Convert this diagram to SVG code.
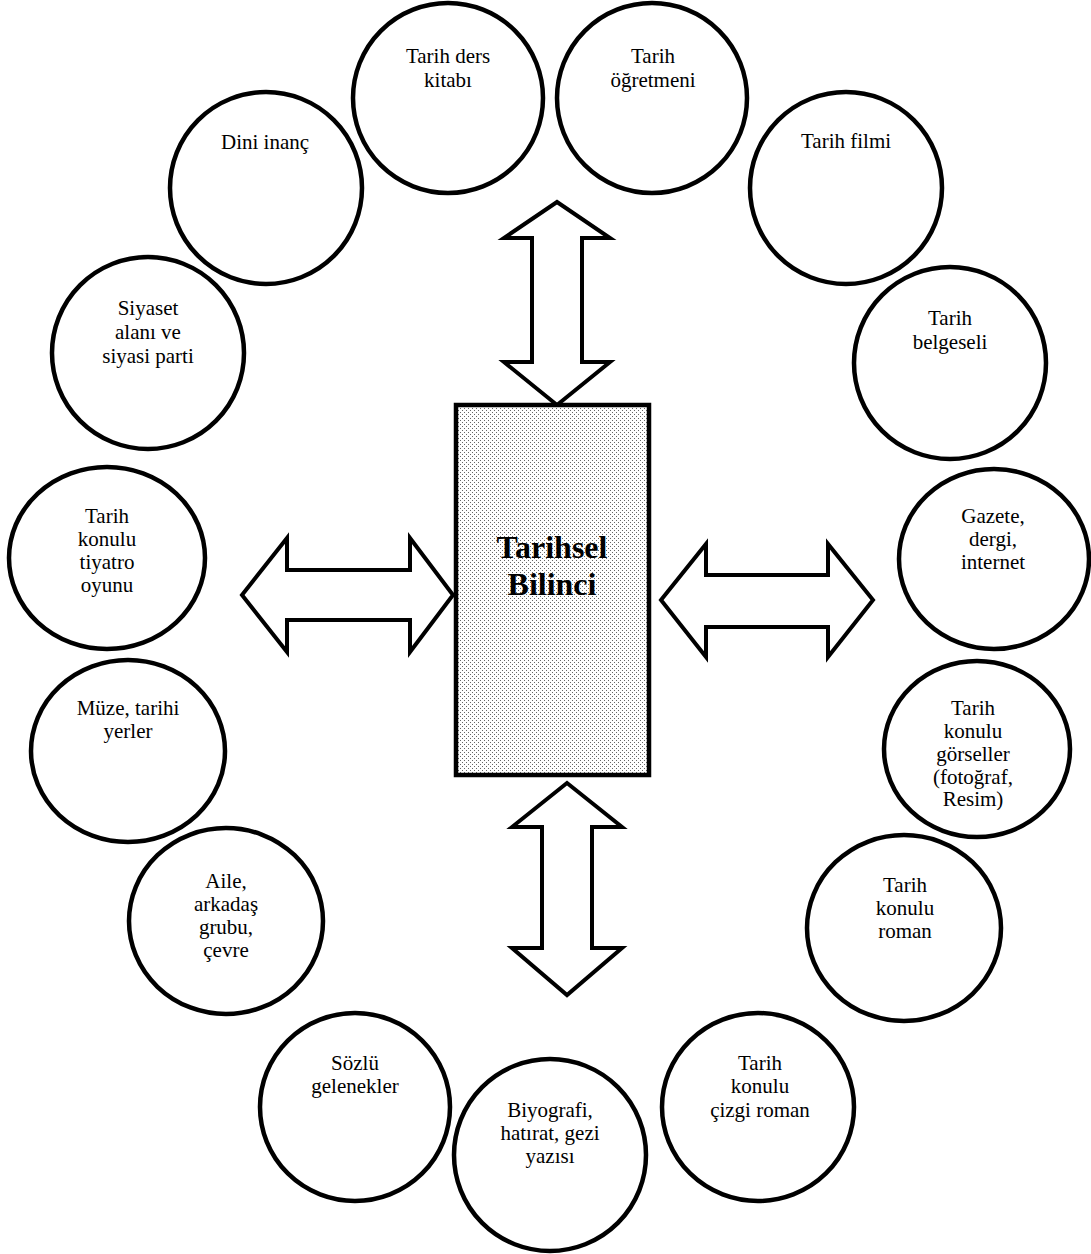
<svg xmlns="http://www.w3.org/2000/svg" width="1091" height="1254" viewBox="0 0 1091 1254">
<style>
.c{fill:#fff;stroke:#000;stroke-width:4.5}
.t{font-family:"Liberation Serif","Times New Roman",serif;font-size:21px;fill:#000;text-anchor:middle}
.b{font-family:"Liberation Serif","Times New Roman",serif;font-size:32px;font-weight:bold;fill:#000;text-anchor:middle}
.a{fill:#fff;stroke:#000;stroke-width:4;stroke-linejoin:miter;stroke-miterlimit:10}
</style>
<defs>
<pattern id="dots" width="4" height="4" patternUnits="userSpaceOnUse">
<rect width="4" height="4" fill="#fff"/>
<rect x="0" y="0" width="1" height="1" fill="#666"/>
<rect x="2" y="2" width="1" height="1" fill="#666"/>
</pattern>
<clipPath id="clipG"><rect x="880" y="690" width="200" height="120"/></clipPath>
</defs>
<rect width="1091" height="1254" fill="#fff"/>
<g id="connectors">
<path class="a" d="M557,202 L610,238 L582,238 L582,362 L610,362 L557,405 L504,362 L532,362 L532,238 L504,238 Z"/>
<path class="a" d="M567,783 L622,827 L592,827 L592,948 L622,948 L567,995 L512,948 L542,948 L542,827 L512,827 Z"/>
<path class="a" d="M242,595 L287,538 L287,570 L410,570 L410,538 L453,595 L410,652 L410,620 L287,620 L287,652 Z"/>
<path class="a" d="M661,600 L706,544 L706,575 L828,575 L828,544 L873,600 L828,657 L828,627 L706,627 L706,657 Z"/>
</g>
<g id="center">
<rect x="456" y="405" width="193" height="370" fill="url(#dots)" stroke="#000" stroke-width="4.5"/>
<text class="b" x="552" y="558">Tarihsel</text>
<text class="b" x="552" y="595">Bilinci</text>
</g>
<g id="n-ders-kitabi">
<circle class="c" cx="448" cy="98" r="95"/>
<text class="t" x="448" y="63">Tarih ders</text>
<text class="t" x="448" y="87">kitabı</text>
</g>
<g id="n-ogretmen">
<circle class="c" cx="652" cy="98" r="95"/>
<text class="t" x="653" y="63">Tarih</text>
<text class="t" x="653" y="87">öğretmeni</text>
</g>
<g id="n-dini">
<circle class="c" cx="266" cy="188" r="96"/>
<text class="t" x="265" y="149">Dini inanç</text>
</g>
<g id="n-film">
<circle class="c" cx="846" cy="188" r="96"/>
<text class="t" x="846" y="148">Tarih filmi</text>
</g>
<g id="n-siyaset">
<circle class="c" cx="148" cy="353" r="96"/>
<text class="t" x="148" y="315">Siyaset</text>
<text class="t" x="148" y="339">alanı ve</text>
<text class="t" x="148" y="363">siyasi parti</text>
</g>
<g id="n-belgesel">
<circle class="c" cx="950" cy="363" r="96"/>
<text class="t" x="950" y="325">Tarih</text>
<text class="t" x="950" y="349">belgeseli</text>
</g>
<g id="n-tiyatro">
<ellipse class="c" cx="107" cy="558" rx="98" ry="91"/>
<text class="t" x="107" y="523">Tarih</text>
<text class="t" x="107" y="546">konulu</text>
<text class="t" x="107" y="569">tiyatro</text>
<text class="t" x="107" y="592">oyunu</text>
</g>
<g id="n-gazete">
<ellipse class="c" cx="994" cy="559" rx="95" ry="90"/>
<text class="t" x="993" y="523">Gazete,</text>
<text class="t" x="993" y="546">dergi,</text>
<text class="t" x="993" y="569">internet</text>
</g>
<g id="n-muze">
<ellipse class="c" cx="128" cy="751" rx="97" ry="91"/>
<text class="t" x="128" y="715">Müze, tarihi</text>
<text class="t" x="128" y="738">yerler</text>
</g>
<g id="n-gorsel">
<ellipse class="c" cx="977" cy="749" rx="93" ry="88"/>
<g clip-path="url(#clipG)">
<text class="t" x="973" y="715">Tarih</text>
<text class="t" x="973" y="738">konulu</text>
<text class="t" x="973" y="761">görseller</text>
<text class="t" x="973" y="784">(fotoğraf,</text>
<text class="t" x="973" y="806">Resim)</text>
</g>
</g>
<g id="n-aile">
<ellipse class="c" cx="226" cy="921" rx="97" ry="93"/>
<text class="t" x="226" y="888">Aile,</text>
<text class="t" x="226" y="911">arkadaş</text>
<text class="t" x="226" y="934">grubu,</text>
<text class="t" x="226" y="957">çevre</text>
</g>
<g id="n-roman">
<ellipse class="c" cx="904" cy="928" rx="97" ry="93"/>
<text class="t" x="905" y="892">Tarih</text>
<text class="t" x="905" y="915">konulu</text>
<text class="t" x="905" y="938">roman</text>
</g>
<g id="n-sozlu">
<ellipse class="c" cx="355" cy="1107" rx="95" ry="94"/>
<text class="t" x="355" y="1070">Sözlü</text>
<text class="t" x="355" y="1093">gelenekler</text>
</g>
<g id="n-cizgi">
<ellipse class="c" cx="758" cy="1107" rx="96" ry="94"/>
<text class="t" x="760" y="1070">Tarih</text>
<text class="t" x="760" y="1093">konulu</text>
<text class="t" x="760" y="1117">çizgi roman</text>
</g>
<g id="n-biyografi">
<ellipse class="c" cx="550" cy="1155" rx="96" ry="96"/>
<text class="t" x="550" y="1117">Biyografi,</text>
<text class="t" x="550" y="1140">hatırat, gezi</text>
<text class="t" x="550" y="1163">yazısı</text>
</g>
</svg>
